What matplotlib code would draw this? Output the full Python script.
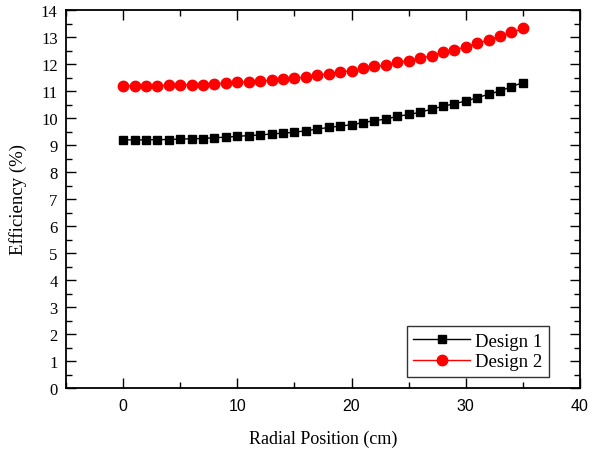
import matplotlib
matplotlib.use("Agg")
import matplotlib.pyplot as plt
from matplotlib.ticker import MultipleLocator

# radial positions (cm)
radial_pos = list(range(0, 36))

# efficiency values (%)
design_1 = [9.19, 9.19, 9.19, 9.20, 9.20, 9.22, 9.23, 9.24, 9.27, 9.29,
            9.32, 9.35, 9.37, 9.41, 9.44, 9.47, 9.53, 9.59, 9.65, 9.70,
            9.75, 9.83, 9.90, 9.96, 10.06, 10.13, 10.21, 10.33, 10.43, 10.53,
            10.63, 10.75, 10.88, 11.00, 11.16, 11.31]
design_2 = [11.20, 11.20, 11.20, 11.20, 11.21, 11.22, 11.23, 11.24, 11.27, 11.29,
            11.32, 11.34, 11.37, 11.40, 11.44, 11.47, 11.52, 11.58, 11.64, 11.71,
            11.75, 11.84, 11.91, 11.96, 12.06, 12.12, 12.21, 12.31, 12.43, 12.53,
            12.63, 12.77, 12.89, 13.03, 13.17, 13.32]

serif = ["Liberation Serif", "DejaVu Serif"]

fig = plt.figure(figsize=(5.98, 4.52), dpi=100)
ax = fig.add_axes([66 / 598, 1 - 389 / 452, (580 - 66) / 598, (389 - 11) / 452])

ax.plot(radial_pos, design_1, color="black", marker="s", markersize=6,
        linewidth=1, label="Design 1")
ax.plot(radial_pos, design_2, color="red", marker="o", markersize=7.5,
        linewidth=1, label="Design 2")

ax.set_xlim(-5, 40)
ax.set_ylim(0, 14)
ax.xaxis.set_major_locator(MultipleLocator(10))
ax.xaxis.set_minor_locator(MultipleLocator(5))
ax.yaxis.set_major_locator(MultipleLocator(1))
ax.yaxis.set_minor_locator(MultipleLocator(0.5))

ax.tick_params(which="both", direction="in", top=True, right=True, width=1)
ax.tick_params(which="major", length=7)
ax.tick_params(which="minor", length=4)
ax.tick_params(axis="x", labelfontfamily="Liberation Sans", labelsize=11.5, pad=7)
ax.tick_params(axis="y", labelfontfamily="Liberation Serif", labelsize=12, pad=6)
for s in ax.spines.values():
    s.set_linewidth(1.3)

ax.set_xlabel("Radial Position (cm)", fontfamily=serif, fontsize=13, labelpad=12)
ax.set_ylabel("Efficiency (%)", fontfamily=serif, fontsize=13.5, labelpad=10)

leg = ax.legend(loc="lower right", bbox_to_anchor=(0.94, 0.029),
                borderaxespad=0, prop={"family": serif, "size": 13.5},
                frameon=True, fancybox=False, handlelength=3.0,
                borderpad=0.35, labelspacing=0.2, handletextpad=0.3)
leg.get_frame().set_edgecolor("black")
leg.get_frame().set_linewidth(1)

fig.savefig("out.png", dpi=100)
